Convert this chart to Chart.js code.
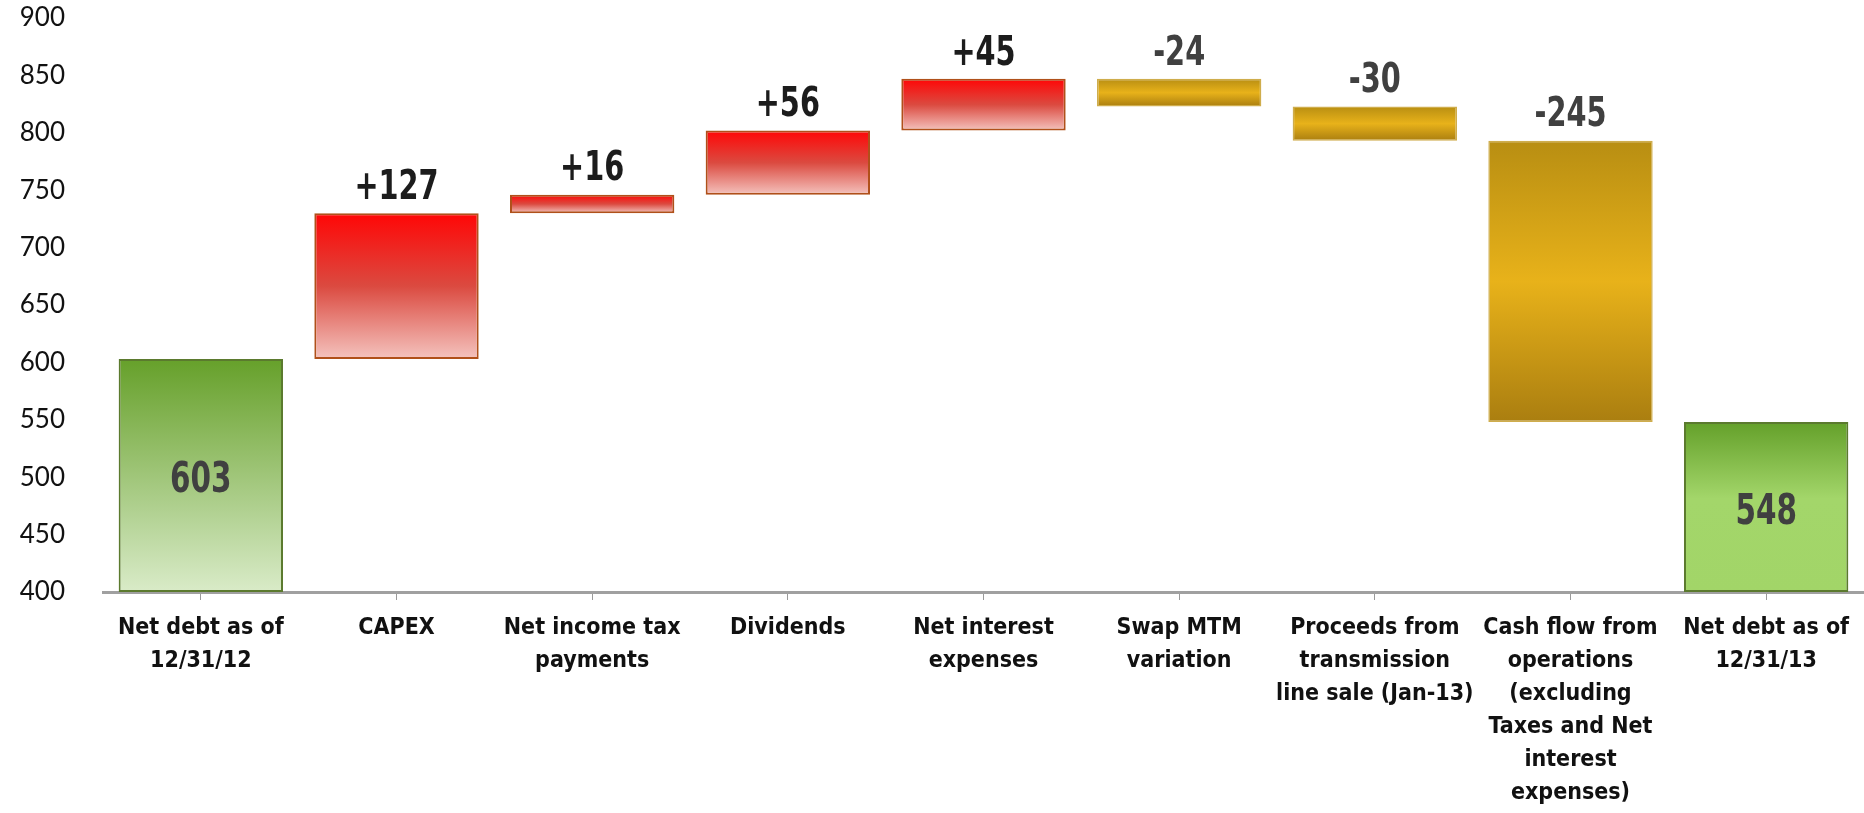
<!DOCTYPE html>
<html>
<head>
<meta charset="utf-8">
<script src="https://cdn.jsdelivr.net/npm/chart.js@4.4.1/dist/chart.umd.min.js"></script>
<style>
  html, body { margin: 0; padding: 0; background: #fff; }
  #wrap { width: 1864px; height: 813px; position: relative; }
</style>
</head>
<body>
<div id="wrap"><canvas id="chart"></canvas></div>
<script>
// categories (multi-line labels)
var categories = [
  ["Net debt as of", "12/31/12"],
  ["CAPEX"],
  ["Net income tax", "payments"],
  ["Dividends"],
  ["Net interest", "expenses"],
  ["Swap MTM", "variation"],
  ["Proceeds from", "transmission", "line sale (Jan-13)"],
  ["Cash flow from", "operations", "(excluding", "Taxes and Net", "interest", "expenses)"],
  ["Net debt as of", "12/31/13"]
];
// 'total' bars stand on the axis, 'step' bars float from the running total
var kinds  = ["total", "step", "step", "step", "step", "step", "step", "step", "total"];
var values = [603, 127, 16, 56, 45, -24, -30, -245, 548];
var valueLabels = ["603", "+127", "+16", "+56", "+45", "-24", "-30", "-245", "548"];

var yMin = 400, yMax = 900, yStep = 50;

// floating ranges for the waterfall
var ranges = [];
var running = 0;
values.forEach(function(v, i){
  if (kinds[i] == "total") {
    running = v;
    ranges.push([yMin, v]);
  } else {
    ranges.push([running, running + v]);
    running += v;
  }
});

var FONT = "'Liberation Sans Narrow', 'DejaVu Sans Condensed', 'Open Sans', sans-serif";

function barGradient(c) {
  if (c.type != "data") return "#ccc";
  var chart = c.chart;
  if (!chart.chartArea) return "#ccc";
  var y = chart.scales.y;
  var r = c.raw;
  var top = y.getPixelForValue(Math.max(r[0], r[1]));
  var bot = y.getPixelForValue(Math.min(r[0], r[1]));
  if (!isFinite(top) || !isFinite(bot) || top == bot) return "#ccc";
  var g = chart.ctx.createLinearGradient(0, top, 0, bot);
  var i = c.dataIndex;
  if (i == 0) {
    g.addColorStop(0, "#66a02a");
    g.addColorStop(1, "#d9ebc8");
  } else if (i == values.length - 1) {
    g.addColorStop(0, "#64a02a");
    g.addColorStop(0.45, "#a3d66a");
    g.addColorStop(1, "#a2d568");
  } else if (values[i] > 0) {
    g.addColorStop(0, "#ff0606");
    g.addColorStop(0.5, "#db4a40");
    g.addColorStop(1, "#f4c3be");
  } else {
    g.addColorStop(0, "#b88e12");
    g.addColorStop(0.5, "#e8b21a");
    g.addColorStop(1, "#aa7e10");
  }
  return g;
}

function barBorder(c) {
  var i = c.dataIndex;
  if (kinds[i] == "total") return "#5b7a2e";
  if (values[i] > 0) return "#b0501a";
  return "#cfad4c";
}

// draws the +/- labels above steps and totals inside their bars
var valueLabelPlugin = {
  id: "valueLabels",
  afterDatasetsDraw: function(chart) {
    var ctx = chart.ctx;
    var meta = chart.getDatasetMeta(0);
    var y = chart.scales.y;
    meta.data.forEach(function(bar, i){
      var r = ranges[i];
      var ty;
      ctx.save();
      ctx.textAlign = "center";
      ctx.textBaseline = "middle";
      if (kinds[i] == "total") {
        ctx.font = "bold 42px " + FONT;
        ctx.fillStyle = "#404040";
        ty = (y.getPixelForValue(r[0]) + y.getPixelForValue(r[1])) / 2 + 6;
      } else {
        ctx.font = "bold 41px " + FONT;
        ctx.fillStyle = values[i] > 0 ? "#1c1c1c" : "#404040";
        ty = y.getPixelForValue(Math.max(r[0], r[1])) - 25;
      }
      // squeeze horizontally to get the condensed look of the original
      ctx.translate(bar.x, ty);
      ctx.scale(0.78, 1);
      ctx.fillText(valueLabels[i], 0, 0);
      ctx.restore();
    });
  }
};

new Chart(document.getElementById("chart"), {
  type: "bar",
  data: {
    labels: categories,
    datasets: [{
      data: ranges,
      backgroundColor: barGradient,
      borderColor: barBorder,
      borderWidth: function(c){ return values[c.dataIndex] < 0 && kinds[c.dataIndex] == "step" ? 1.5 : 2; },
      borderSkipped: false,
      barPercentage: 0.84,
      categoryPercentage: 1.0
    }]
  },
  options: {
    responsive: true,
    maintainAspectRatio: false,
    animation: false,
    layout: { padding: { top: 18, right: 0, left: 0, bottom: 0 } },
    plugins: {
      legend: { display: false },
      tooltip: { enabled: false }
    },
    scales: {
      x: {
        offset: true,
        afterFit: function(scale){ scale.height = 221; scale.paddingLeft = 0; scale.paddingRight = 0; },
        grid: {
          display: true,
          offset: false,
          drawOnChartArea: false,
          drawTicks: true,
          tickLength: 8,
          color: "#9a9a9a",
          lineWidth: 1
        },
        border: { display: true, color: "#a0a0a0", width: 3 },
        ticks: {
          color: "#111",
          font: { family: FONT, size: 23, weight: "bold", lineHeight: 1.43 },
          padding: 12,
          maxRotation: 0,
          autoSkip: false
        }
      },
      y: {
        min: yMin,
        max: yMax,
        grid: { display: false, drawTicks: false },
        border: { display: false },
        afterFit: function(scale){ scale.width = 103; scale.paddingTop = 0; scale.paddingBottom = 0; },
        ticks: {
          stepSize: yStep,
          color: "#111",
          font: { family: "Lato, 'Open Sans', sans-serif", size: 26 },
          padding: 38
        }
      }
    }
  },
  plugins: [valueLabelPlugin]
});
</script>
</body>
</html>
